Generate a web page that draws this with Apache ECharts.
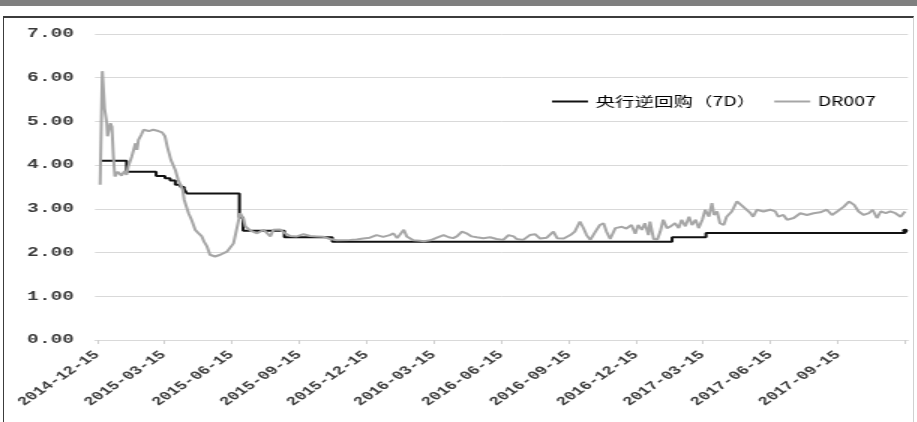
<!DOCTYPE html>
<html>
<head>
<meta charset="utf-8">
<script src="https://cdn.jsdelivr.net/npm/echarts@6/dist/echarts.min.js"></script>
<style>
  html, body { margin: 0; padding: 0; background: #fff; }
  .page { position: relative; width: 917px; height: 422px; overflow: hidden; background: #fff; }
  .top-bar { position: absolute; left: 0; top: 0; width: 917px; height: 6px; background: #7f7f7f; }
  .frame { position: absolute; left: 3px; top: 16px; width: 909px; height: 420px;
           border-top: 2px solid #3c3c3c; border-left: 1px solid #3c3c3c; border-right: 1px solid #d0d0d0; }
  /* the source picture is stretched 1.5x in width, so the chart is drawn narrow and widened */
  #main { position: absolute; left: 0; top: 0; width: 611px; height: 422px;
          transform: scaleX(1.5); transform-origin: 0 0; }
</style>
</head>
<body>
<div class="page">
  <div class="top-bar"></div>
  <div class="frame"></div>
  <div id="main"></div>
</div>
<script>
// 刻度（每季度）
const tickDates = [
  '2014-12-15', '2015-03-15', '2015-06-15', '2015-09-15', '2015-12-15', '2016-03-15', '2016-06-15',
  '2016-09-15', '2016-12-15', '2017-03-15', '2017-06-15', '2017-09-15', '2017-12-15'
];
const labelDates = tickDates.slice(0, 12);

// 央行逆回购（7D）调整日期与利率
const rateDates = [
  '2014-12-19', '2015-01-24', '2015-03-05', '2015-03-17', '2015-03-24', '2015-03-31', '2015-04-07',
  '2015-04-12', '2015-04-16', '2015-06-26', '2015-07-01', '2015-08-26', '2015-10-30', '2017-02-02',
  '2017-03-20', '2017-12-15'
];
const rateValues = [4.10, 3.85, 3.75, 3.70, 3.65, 3.55, 3.50, 3.45, 3.35, 2.80, 2.50, 2.35, 2.25, 2.35, 2.45, 2.50];

// DR007
const drDates = [
  '2014-12-19', '2014-12-22', '2014-12-25', '2014-12-28', '2014-12-29', '2015-01-02', '2015-01-04', '2015-01-06',
  '2015-01-08', '2015-01-12', '2015-01-17', '2015-01-21', '2015-01-24', '2015-01-26', '2015-01-31', '2015-02-05',
  '2015-02-07', '2015-02-09', '2015-02-13', '2015-02-16', '2015-02-18', '2015-02-23', '2015-03-01', '2015-03-08',
  '2015-03-13', '2015-03-17', '2015-03-20', '2015-03-25', '2015-03-31', '2015-04-04', '2015-04-10', '2015-04-12',
  '2015-04-18', '2015-04-22', '2015-04-27', '2015-05-01', '2015-05-06', '2015-05-09', '2015-05-13', '2015-05-17',
  '2015-05-24', '2015-05-31', '2015-06-04', '2015-06-09', '2015-06-13', '2015-06-18', '2015-06-21', '2015-06-25',
  '2015-06-27', '2015-07-01', '2015-07-04', '2015-07-11', '2015-07-20', '2015-07-29', '2015-08-07', '2015-08-11',
  '2015-08-20', '2015-08-27', '2015-09-03', '2015-09-12', '2015-09-21', '2015-09-30', '2015-10-09', '2015-10-18',
  '2015-10-27', '2015-11-05', '2015-11-23', '2015-12-02', '2015-12-11', '2015-12-20', '2015-12-29', '2016-01-07',
  '2016-01-16', '2016-01-21', '2016-01-26', '2016-02-04', '2016-02-08', '2016-02-17', '2016-02-26', '2016-03-02',
  '2016-03-11', '2016-03-20', '2016-03-29', '2016-04-05', '2016-04-11', '2016-04-16', '2016-04-23', '2016-04-29',
  '2016-05-06', '2016-05-13', '2016-05-22', '2016-05-31', '2016-06-09', '2016-06-18', '2016-06-25', '2016-07-02',
  '2016-07-06', '2016-07-15', '2016-07-24', '2016-07-31', '2016-08-07', '2016-08-16', '2016-08-25', '2016-08-30',
  '2016-09-08', '2016-09-17', '2016-09-23', '2016-09-30', '2016-10-05', '2016-10-09', '2016-10-14', '2016-10-21',
  '2016-10-27', '2016-11-01', '2016-11-05', '2016-11-10', '2016-11-17', '2016-11-21', '2016-11-26', '2016-12-02',
  '2016-12-09', '2016-12-14', '2016-12-18', '2016-12-23', '2016-12-27', '2017-01-01', '2017-01-03', '2017-01-08',
  '2017-01-13', '2017-01-17', '2017-01-21', '2017-01-26', '2017-01-31', '2017-02-06', '2017-02-11', '2017-02-15',
  '2017-02-20', '2017-02-25', '2017-03-01', '2017-03-06', '2017-03-10', '2017-03-15', '2017-03-19', '2017-03-24',
  '2017-03-28', '2017-03-31', '2017-04-04', '2017-04-08', '2017-04-13', '2017-04-17', '2017-04-24', '2017-05-01',
  '2017-05-05', '2017-05-12', '2017-05-19', '2017-05-23', '2017-05-28', '2017-06-06', '2017-06-15', '2017-06-22',
  '2017-06-26', '2017-07-03', '2017-07-08', '2017-07-17', '2017-07-26', '2017-08-04', '2017-08-13', '2017-08-22',
  '2017-08-31', '2017-09-07', '2017-09-14', '2017-09-23', '2017-09-30', '2017-10-07', '2017-10-13', '2017-10-20',
  '2017-10-27', '2017-11-01', '2017-11-07', '2017-11-12', '2017-11-19', '2017-11-25', '2017-12-02', '2017-12-09',
  '2017-12-15'
];
const drValues = [
  3.55, 6.15, 5.30, 4.96, 4.66, 4.96, 4.88, 4.20,
  3.74, 3.85, 3.76, 3.86, 3.78, 3.96, 4.20, 4.50,
  4.35, 4.58, 4.70, 4.81, 4.85, 4.78, 4.81, 4.78,
  4.75, 4.66, 4.43, 4.12, 3.89, 3.66, 3.44, 3.21,
  2.90, 2.75, 2.52, 2.45, 2.37, 2.25, 2.14, 1.95,
  1.91, 1.95, 1.98, 2.02, 2.05, 2.21, 2.44, 2.75,
  2.90, 2.79, 2.60, 2.50, 2.44, 2.52, 2.37, 2.52,
  2.53, 2.44, 2.38, 2.37, 2.42, 2.38, 2.37, 2.36,
  2.31, 2.28, 2.29, 2.30, 2.32, 2.34, 2.40, 2.36,
  2.40, 2.44, 2.33, 2.52, 2.37, 2.28, 2.27, 2.26,
  2.28, 2.34, 2.40, 2.35, 2.33, 2.37, 2.48, 2.44,
  2.37, 2.35, 2.33, 2.35, 2.31, 2.29, 2.40, 2.37,
  2.31, 2.29, 2.40, 2.42, 2.32, 2.34, 2.48, 2.33,
  2.32, 2.40, 2.48, 2.71, 2.55, 2.40, 2.29, 2.48,
  2.63, 2.67, 2.48, 2.31, 2.56, 2.52, 2.59, 2.55,
  2.63, 2.43, 2.63, 2.52, 2.67, 2.40, 2.71, 2.31,
  2.30, 2.48, 2.75, 2.56, 2.60, 2.67, 2.56, 2.75,
  2.60, 2.82, 2.63, 2.75, 2.56, 2.75, 2.98, 2.82,
  3.13, 2.86, 2.94, 2.67, 2.63, 2.82, 2.94, 3.17,
  3.13, 3.01, 2.91, 2.82, 2.98, 2.94, 2.98, 2.94,
  2.82, 2.86, 2.75, 2.79, 2.90, 2.86, 2.90, 2.92,
  2.98, 2.86, 2.94, 3.05, 3.17, 3.09, 2.94, 2.86,
  2.90, 2.98, 2.79, 2.94, 2.90, 2.94, 2.90, 2.82,
  2.94
];

// 日期转时间戳（本地时间）
function toTime(s) {
  const p = s.split('-');
  return new Date(+p[0], +p[1] - 1, +p[2]).getTime();
}
function pad(n) {
  return n < 10 ? '0' + n : '' + n;
}

const rateData = rateDates.map((d, i) => [toTime(d), rateValues[i]]);
// 最后一个点画个小圆点
rateData[rateData.length - 1] = { value: rateData[rateData.length - 1], symbol: 'circle', symbolSize: 4 };
const drData = drDates.map((d, i) => [toTime(d), drValues[i]]);

const axisFont = 'Liberation Mono';

const option = {
  animation: false,
  grid: { left: 63.3, right: 5.7, top: 34, bottom: 82, containLabel: false },
  legend: {
    left: 363,
    top: 90,
    icon: 'rect',
    itemWidth: 24,
    itemHeight: 2,
    itemGap: 12,
    textStyle: { fontFamily: 'Noto Sans CJK SC', fontSize: 13, color: '#000' },
    data: ['央行逆回购（7D）', 'DR007']
  },
  // 时间轴用数值轴承载时间戳，便于指定季度刻度
  xAxis: {
    type: 'value',
    min: toTime('2014-12-12'),
    max: toTime('2017-12-19'),
    splitLine: { show: false },
    axisLine: { show: true, lineStyle: { color: '#d9d9d9', width: 1 } },
    axisTick: {
      show: true,
      length: 4,
      lineStyle: { color: '#cfcfcf' },
      customValues: tickDates.map(toTime)
    },
    axisLabel: {
      rotate: 45,
      margin: 13,
      fontFamily: axisFont,
      fontWeight: 'bold',
      fontSize: 12,
      color: '#3a3a3a',
      customValues: labelDates.map(toTime),
      formatter: function (v) {
        const d = new Date(v);
        return d.getFullYear() + '-' + pad(d.getMonth() + 1) + '-' + pad(d.getDate());
      }
    }
  },
  yAxis: {
    type: 'value',
    min: 0,
    max: 7,
    interval: 1,
    axisLine: { show: false },
    axisTick: { show: false },
    splitLine: { lineStyle: { color: '#d9d9d9', width: 1 } },
    axisLabel: {
      margin: 14,
      fontFamily: axisFont,
      fontWeight: 'bold',
      fontSize: 13,
      color: '#3a3a3a',
      formatter: (v) => v.toFixed(2)
    }
  },
  series: [
    {
      name: '央行逆回购（7D）',
      type: 'line',
      step: 'end',
      symbol: 'none',
      color: '#111',
      lineStyle: { color: '#111', width: 2 },
      data: rateData
    },
    {
      name: 'DR007',
      type: 'line',
      symbol: 'none',
      color: '#a6a6a6',
      lineStyle: { color: '#a6a6a6', width: 2 },
      data: drData
    }
  ]
};

const myChart = echarts.init(document.getElementById('main'));
myChart.setOption(option);
</script>
</body>
</html>
